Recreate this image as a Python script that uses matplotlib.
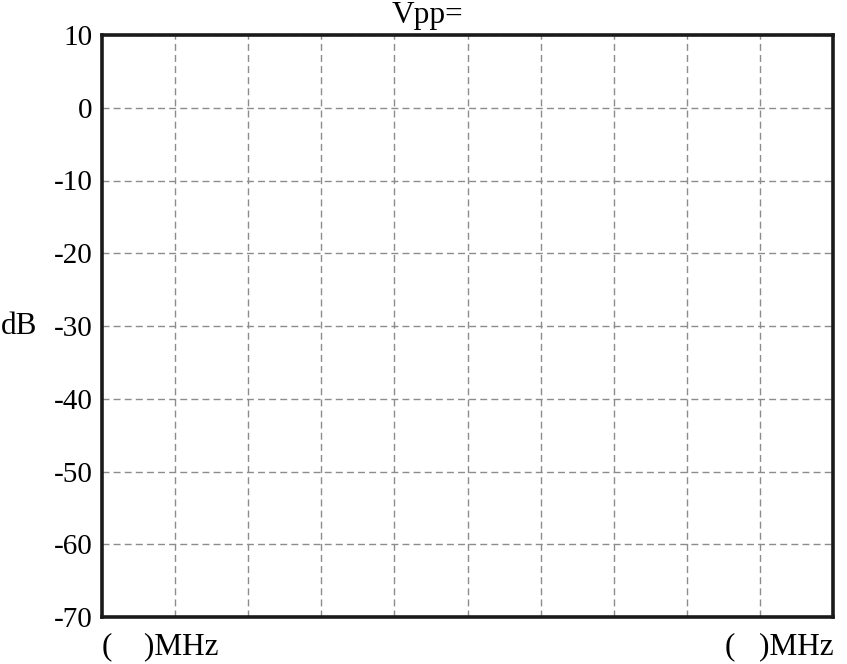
import matplotlib
matplotlib.use('Agg')
from matplotlib import pyplot as plt
import numpy as np

plt.rcParams['font.family'] = ['Liberation Serif', 'DejaVu Serif']

# axis values
y_ticks = [10, 0, -10, -20, -30, -40, -50, -60, -70]
x_grid = [1, 2, 3, 4, 5, 6, 7, 8, 9]
x_min, x_max = 0, 10
title_text = 'Vpp='
y_label = 'dB'
freq_label_left = '(    )MHz'
freq_label_right = '(   )MHz'

fig = plt.figure(figsize=(8.47, 6.64), dpi=100)
ax = fig.add_axes([102/847, 47/664, 731/847, 582/664])

ax.set_xlim(x_min, x_max)
ax.set_ylim(min(y_ticks), max(y_ticks))

ax.set_yticks(y_ticks)
ax.set_yticklabels([str(v) for v in y_ticks], fontsize=21)
ax.set_xticks(x_grid)
ax.set_xticklabels([])
ax.tick_params(length=0, pad=7)

ax.grid(True, color='#8c8c8c', linestyle=(0, (5, 3)), linewidth=1.0)

for s in ax.spines.values():
    s.set_linewidth(2.6)
    s.set_color('#1a1a1a')

fig.text(392/847, 1 - 1/664, title_text, fontsize=22.5, ha='left', va='top')
fig.text(1/847, 1 - 327/664, y_label, fontsize=22.5, ha='left', va='center')
fig.text(102/847, 1 - 647/664, freq_label_left, fontsize=22.5, ha='left', va='center')
fig.text(834/847, 1 - 647/664, freq_label_right, fontsize=22.5, ha='right', va='center')

fig.savefig('out.png', dpi=100)
